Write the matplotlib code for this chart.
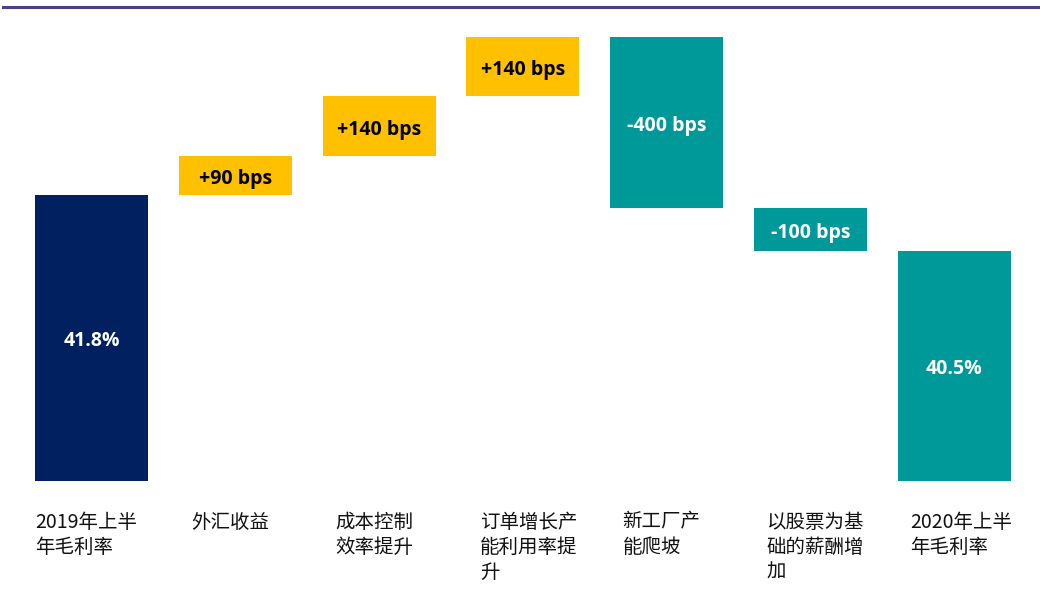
import numpy as np
import matplotlib
matplotlib.use("Agg")
import matplotlib.pyplot as plt
from matplotlib.lines import Line2D

plt.rcParams['font.family'] = ['Noto Sans CJK SC', 'DejaVu Sans']

# data
categories = ['2019年上半\n年毛利率', '外汇收益', '成本控制\n效率提升',
              '订单增长产\n能利用率提\n升', '新工厂产\n能爬坡',
              '以股票为基\n础的薪酬增\n加', '2020年上半\n年毛利率']
start_margin = 41.8   # %
end_margin = 40.5     # %
changes_bps = [90, 140, 140, -400, -100]

navy = '#002060'
yellow = '#FFC000'
teal = '#009999'

# waterfall geometry
steps = np.array(changes_bps) / 100.0
level = start_margin + np.concatenate([[0], np.cumsum(steps)])
bottoms = [0] + list(np.minimum(level[:-1], level[1:])) + [0]
heights = [start_margin] + list(np.abs(steps)) + [end_margin]
colors = [navy] + [yellow if s > 0 else teal for s in steps] + [teal]
texts = [f'{start_margin:.1f}%'] + [f'{c:+d} bps' for c in changes_bps] + [f'{end_margin:.1f}%']
txt_colors = ['white'] + ['black' if s > 0 else 'white' for s in steps] + ['white']

fig = plt.figure(figsize=(10.4, 5.92), dpi=100)
ax = fig.add_axes([0, 0.1875, 1, 0.7956])

x = np.arange(len(categories))
w = 0.786
ax.bar(x, heights, bottom=bottoms, width=w, color=colors)

ymin = 35.12
for xi, b, h, t, tc in zip(x, bottoms, heights, texts, txt_colors):
    lo = max(b, ymin)
    ax.annotate(t, xy=(xi, (lo + b + h) / 2), xytext=(0, -2.5),
                textcoords='offset points', ha='center', va='center', color=tc,
                fontsize=14, fontweight='bold', family=['Open Sans', 'DejaVu Sans'])

# label inset from the bar's left edge (points)
insets = [0, 9, 9, 10, 9, 9, 9]
for xi, lab, ins in zip(x, categories, insets):
    ax.annotate(lab, xy=(xi - w / 2, 0), xycoords=('data', 'axes fraction'),
                xytext=(ins, -22), textcoords='offset points',
                ha='left', va='top', fontsize=14, linespacing=1.25,
                color='#111111')

ax.set_xlim(-0.636, 6.596)
ax.set_ylim(ymin, 46.12)
ax.axis('off')

fig.add_artist(Line2D([0.003, 1.0], [0.989, 0.989], color='#4B3F8C', lw=2.2))

fig.savefig('out.png', dpi=100)
